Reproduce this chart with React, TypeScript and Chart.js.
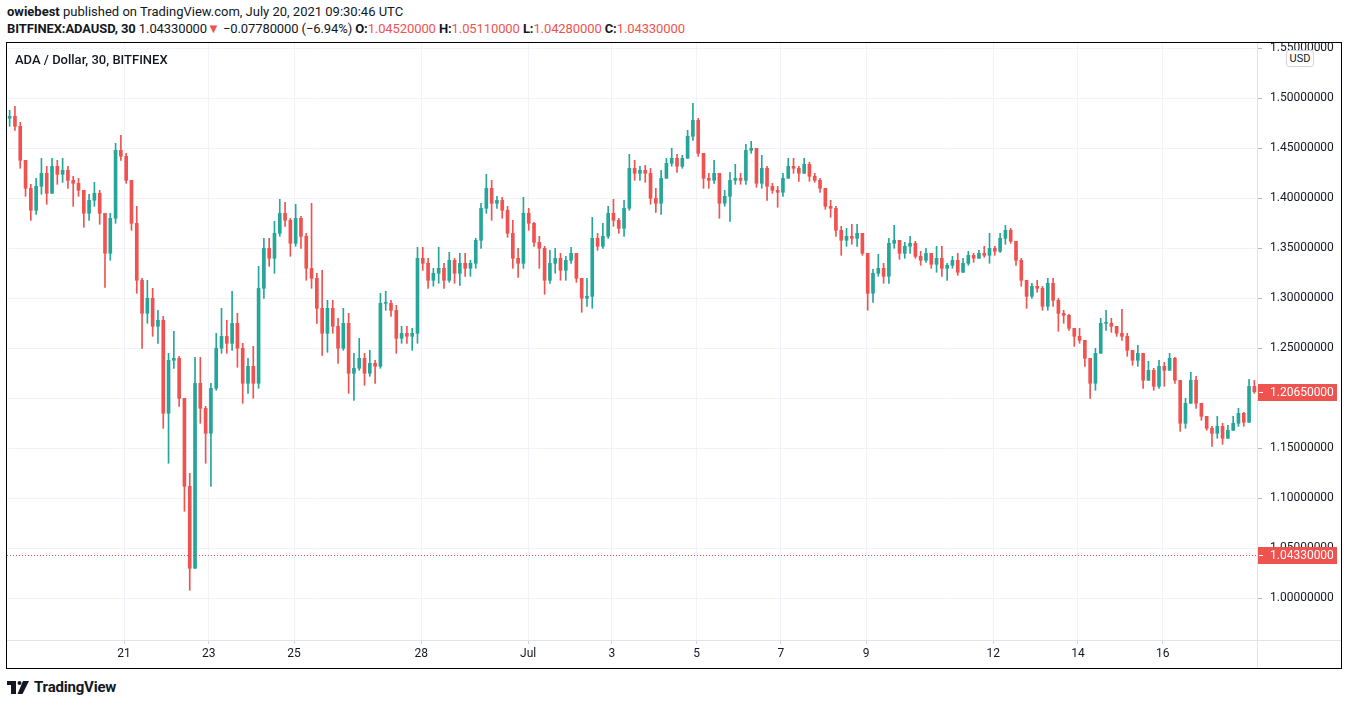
import React, { useEffect, useRef } from "react";
import { Chart, registerables } from "chart.js";

Chart.register(...registerables);

// ---- Data (3-hour candles; open = previous close) ----
const FIRST_OPEN = 1.48;

const highs = [
  1.488, 1.492, 1.476, 1.428, 1.414, 1.42, 1.44, 1.432, 1.44, 1.438,
  1.44, 1.432, 1.422, 1.42, 1.408, 1.404, 1.416, 1.408, 1.385, 1.385,
  1.455, 1.463, 1.445, 1.418, 1.392, 1.32, 1.318, 1.31, 1.288, 1.282,
  1.245, 1.267, 1.242, 1.2, 1.125, 1.241, 1.241, 1.192, 1.215, 1.265,
  1.29, 1.278, 1.307, 1.285, 1.255, 1.24, 1.252, 1.332, 1.36, 1.36,
  1.377, 1.399, 1.396, 1.38, 1.394, 1.382, 1.365, 1.395, 1.325, 1.328,
  1.298, 1.298, 1.28, 1.29, 1.285, 1.245, 1.26, 1.245, 1.248, 1.238,
  1.305, 1.307, 1.298, 1.293, 1.272, 1.272, 1.27, 1.351, 1.351, 1.34,
  1.33, 1.351, 1.335, 1.346, 1.34, 1.345, 1.345, 1.338, 1.36, 1.395,
  1.424, 1.418, 1.402, 1.401, 1.392, 1.378, 1.35, 1.401, 1.39, 1.376,
  1.362, 1.352, 1.348, 1.35, 1.345, 1.342, 1.351, 1.345, 1.32, 1.32,
  1.381, 1.365, 1.375, 1.392, 1.399, 1.38, 1.398, 1.444, 1.438, 1.432,
  1.433, 1.43, 1.41, 1.428, 1.44, 1.45, 1.444, 1.443, 1.468, 1.495,
  1.48, 1.445, 1.425, 1.438, 1.425, 1.408, 1.426, 1.434, 1.425, 1.454,
  1.457, 1.45, 1.443, 1.432, 1.415, 1.412, 1.425, 1.44, 1.44, 1.432,
  1.44, 1.436, 1.425, 1.42, 1.41, 1.398, 1.392, 1.372, 1.37, 1.374,
  1.374, 1.365, 1.345, 1.329, 1.344, 1.335, 1.36, 1.373, 1.358, 1.356,
  1.362, 1.357, 1.347, 1.35, 1.345, 1.352, 1.352, 1.335, 1.342, 1.345,
  1.34, 1.347, 1.345, 1.348, 1.352, 1.365, 1.352, 1.365, 1.373, 1.37,
  1.357, 1.34, 1.318, 1.315, 1.318, 1.312, 1.32, 1.32, 1.3, 1.288,
  1.284, 1.27, 1.27, 1.258, 1.24, 1.25, 1.28, 1.288, 1.28, 1.272,
  1.289, 1.265, 1.248, 1.253, 1.245, 1.237, 1.23, 1.238, 1.236, 1.245,
  1.241, 1.218, 1.2, 1.226, 1.222, 1.195, 1.182, 1.172, 1.182, 1.175,
  1.173, 1.182, 1.19, 1.186, 1.219, 1.218,
];

const lows = [
  1.472, 1.468, 1.43, 1.402, 1.378, 1.384, 1.404, 1.394, 1.412, 1.414,
  1.416, 1.41, 1.392, 1.402, 1.371, 1.378, 1.392, 1.374, 1.311, 1.338,
  1.375, 1.438, 1.415, 1.368, 1.305, 1.25, 1.275, 1.262, 1.255, 1.17,
  1.135, 1.23, 1.192, 1.087, 1.008, 1.03, 1.175, 1.135, 1.112, 1.208,
  1.245, 1.245, 1.248, 1.231, 1.195, 1.205, 1.2, 1.21, 1.3, 1.332,
  1.325, 1.362, 1.372, 1.342, 1.352, 1.35, 1.318, 1.31, 1.275, 1.243,
  1.246, 1.265, 1.235, 1.248, 1.205, 1.198, 1.228, 1.213, 1.222, 1.215,
  1.23, 1.288, 1.282, 1.245, 1.255, 1.255, 1.248, 1.255, 1.328, 1.31,
  1.312, 1.315, 1.31, 1.316, 1.315, 1.313, 1.322, 1.322, 1.33, 1.35,
  1.385, 1.378, 1.39, 1.38, 1.361, 1.33, 1.321, 1.33, 1.368, 1.352,
  1.33, 1.304, 1.315, 1.325, 1.318, 1.318, 1.335, 1.316, 1.286, 1.292,
  1.29, 1.348, 1.35, 1.36, 1.372, 1.365, 1.362, 1.388, 1.418, 1.418,
  1.416, 1.394, 1.386, 1.384, 1.42, 1.432, 1.426, 1.43, 1.44, 1.458,
  1.442, 1.41, 1.41, 1.415, 1.38, 1.392, 1.377, 1.414, 1.414, 1.414,
  1.445, 1.411, 1.41, 1.398, 1.405, 1.391, 1.402, 1.42, 1.425, 1.417,
  1.425, 1.417, 1.416, 1.406, 1.389, 1.381, 1.362, 1.343, 1.352, 1.354,
  1.352, 1.343, 1.288, 1.296, 1.322, 1.315, 1.315, 1.35, 1.339, 1.34,
  1.345, 1.34, 1.333, 1.336, 1.33, 1.326, 1.322, 1.318, 1.33, 1.323,
  1.326, 1.333, 1.336, 1.34, 1.341, 1.335, 1.343, 1.346, 1.354, 1.355,
  1.333, 1.312, 1.29, 1.3, 1.306, 1.288, 1.288, 1.292, 1.267, 1.275,
  1.268, 1.252, 1.255, 1.232, 1.2, 1.208, 1.245, 1.268, 1.266, 1.262,
  1.258, 1.242, 1.233, 1.232, 1.21, 1.218, 1.208, 1.21, 1.212, 1.228,
  1.215, 1.167, 1.17, 1.195, 1.19, 1.178, 1.168, 1.152, 1.16, 1.154,
  1.16, 1.168, 1.172, 1.172, 1.176, 1.205,
];

const closes = [
  1.482, 1.472, 1.438, 1.41, 1.388, 1.412, 1.425, 1.405, 1.432, 1.424,
  1.428, 1.418, 1.415, 1.408, 1.385, 1.398, 1.405, 1.385, 1.345, 1.38,
  1.448, 1.442, 1.418, 1.375, 1.318, 1.285, 1.3, 1.272, 1.278, 1.185,
  1.238, 1.24, 1.2, 1.112, 1.03, 1.215, 1.19, 1.165, 1.21, 1.25,
  1.262, 1.255, 1.275, 1.25, 1.215, 1.232, 1.215, 1.31, 1.35, 1.34,
  1.365, 1.385, 1.378, 1.355, 1.38, 1.362, 1.33, 1.32, 1.29, 1.265,
  1.29, 1.272, 1.25, 1.275, 1.225, 1.23, 1.24, 1.225, 1.235, 1.232,
  1.295, 1.295, 1.288, 1.26, 1.265, 1.262, 1.265, 1.34, 1.335, 1.318,
  1.325, 1.33, 1.318, 1.338, 1.325, 1.335, 1.33, 1.335, 1.358, 1.39,
  1.41, 1.395, 1.398, 1.388, 1.365, 1.34, 1.335, 1.385, 1.375, 1.356,
  1.35, 1.318, 1.335, 1.34, 1.328, 1.338, 1.345, 1.32, 1.3, 1.302,
  1.36, 1.352, 1.362, 1.385, 1.378, 1.37, 1.39, 1.43, 1.425, 1.428,
  1.425, 1.4, 1.395, 1.42, 1.435, 1.44, 1.432, 1.44, 1.462, 1.478,
  1.445, 1.42, 1.418, 1.425, 1.395, 1.402, 1.418, 1.42, 1.418, 1.448,
  1.45, 1.415, 1.43, 1.412, 1.408, 1.406, 1.42, 1.432, 1.43, 1.425,
  1.434, 1.422, 1.418, 1.41, 1.392, 1.39, 1.368, 1.358, 1.362, 1.36,
  1.365, 1.345, 1.305, 1.325, 1.33, 1.322, 1.355, 1.358, 1.345, 1.352,
  1.355, 1.342, 1.338, 1.345, 1.334, 1.34, 1.33, 1.333, 1.338, 1.326,
  1.335, 1.343, 1.34, 1.345, 1.343, 1.35, 1.347, 1.36, 1.368, 1.357,
  1.338, 1.318, 1.302, 1.312, 1.31, 1.292, 1.315, 1.298, 1.285, 1.283,
  1.27, 1.262, 1.258, 1.24, 1.215, 1.245, 1.275, 1.275, 1.272, 1.265,
  1.262, 1.248, 1.238, 1.245, 1.218, 1.228, 1.212, 1.232, 1.228, 1.24,
  1.218, 1.175, 1.195, 1.218, 1.195, 1.182, 1.17, 1.165, 1.172, 1.16,
  1.168, 1.175, 1.185, 1.176, 1.212, 1.2065,
];

const X_MAX = 236;
const tickPositions = [22.1, 38.1, 54.2, 78.2, 98.4, 114.2, 130.2, 146.1, 162.2, 186.2, 202.2, 218.2];
const tickLabels = ["21", "23", "25", "28", "Jul", "3", "5", "7", "9", "12", "14", "16"];
const priceTicks = [1.0, 1.05, 1.1, 1.15, 1.2, 1.25, 1.3, 1.35, 1.4, 1.45, 1.5, 1.55];
const Y_MIN = 0.9583;
const Y_MAX = 1.5553;
const CURRENT_PRICE = 1.0433;

const TEAL = "#26a69a";
const RED = "#ef5350";
const TEXT = "#131722";
const GRID = "#f0f3fa";
const SEP = "#e0e3eb";
const FONT = "Roboto, 'Liberation Sans', sans-serif";

const priceLabelsPlugin = {
  id: "priceLabels",
  afterDraw(chart: any) {
    const { ctx, chartArea, scales } = chart;
    const y = scales.y;
    const lastClose = closes[closes.length - 1];
    ctx.save();
    // dotted current price line
    const yc = Math.round(y.getPixelForValue(CURRENT_PRICE)) + 0.5;
    ctx.strokeStyle = RED;
    ctx.lineWidth = 1;
    ctx.setLineDash([1, 2]);
    ctx.beginPath();
    ctx.moveTo(chartArea.left, yc);
    ctx.lineTo(chartArea.right, yc);
    ctx.stroke();
    ctx.setLineDash([]);
    const drawLabel = (value: number) => {
      const py = Math.round(y.getPixelForValue(value));
      const x0 = chartArea.right + 1;
      ctx.fillStyle = RED;
      ctx.fillRect(x0, py - 8, 79, 17);
      ctx.strokeStyle = "#ffffff";
      ctx.beginPath();
      ctx.moveTo(x0 + 1, py + 0.5);
      ctx.lineTo(x0 + 5, py + 0.5);
      ctx.stroke();
      ctx.fillStyle = "#ffffff";
      ctx.font = `12px ${FONT}`;
      ctx.textBaseline = "middle";
      ctx.textAlign = "left";
      ctx.fillText(value.toFixed(8), chartArea.right + 13, py + 1);
    };
    drawLabel(lastClose);
    drawLabel(CURRENT_PRICE);
    ctx.restore();
  },
};

export default function App() {
  const ref = useRef<HTMLCanvasElement>(null);

  useEffect(() => {
    const opens = closes.map((c, i) => (i === 0 ? FIRST_OPEN : closes[i - 1]));
    const colors = closes.map((c, i) => (c >= opens[i] ? TEAL : RED));
    const wickData = closes.map((c, i) => ({
      x: i + 0.5,
      y: [Math.min(lows[i], opens[i], c), Math.max(highs[i], opens[i], c)],
    }));
    const bodyData = closes.map((c, i) => ({
      x: i + 0.5,
      y: [Math.min(opens[i], c), Math.max(opens[i], c)],
    }));

    const chart = new Chart(ref.current as HTMLCanvasElement, {
      type: "bar",
      data: {
        datasets: [
          {
            data: wickData as any,
            backgroundColor: colors,
            barThickness: 1,
            grouped: false,
            minBarLength: 1,
            borderWidth: 0,
          } as any,
          {
            data: bodyData as any,
            backgroundColor: colors,
            barThickness: 3,
            grouped: false,
            minBarLength: 1,
            borderWidth: 0,
          } as any,
        ],
      },
      options: {
        responsive: false,
        animation: false,
        layout: { padding: 0 },
        plugins: { legend: { display: false }, tooltip: { enabled: false } },
        scales: {
          x: {
            type: "linear",
            min: 0,
            max: X_MAX,
            offset: false,
            afterBuildTicks: (s: any) => {
              s.ticks = tickPositions.map((v) => ({ value: v }));
            },
            afterFit: (s: any) => {
              s.height = 28;
              s.paddingLeft = 0;
              s.paddingRight = 0;
            },
            ticks: {
              autoSkip: false,
              maxRotation: 0,
              color: TEXT,
              padding: 3,
              font: { family: FONT, size: 12 },
              callback: (v: any, i: number) => tickLabels[i],
            },
            grid: { offset: false, color: GRID, tickColor: "#d1d4dc", tickLength: 4, drawTicks: true },
            border: { display: false },
          },
          y: {
            type: "linear",
            position: "right",
            min: Y_MIN,
            max: Y_MAX,
            afterBuildTicks: (s: any) => {
              s.ticks = priceTicks.map((v) => ({ value: v }));
            },
            afterFit: (s: any) => {
              s.width = 84;
              s.paddingTop = 0;
              s.paddingBottom = 0;
            },
            ticks: {
              color: TEXT,
              padding: 8,
              font: { family: FONT, size: 12 },
              callback: (v: any) => Number(v).toFixed(8),
            },
            grid: { color: GRID, tickColor: "#b2b5be", tickLength: 5, drawTicks: true },
            border: { display: false },
          },
        },
      } as any,
      plugins: [priceLabelsPlugin],
    });
    return () => chart.destroy();
  }, []);

  const red = { color: RED };
  const bold = { fontWeight: 700 };

  return (
    <div
      style={{
        position: "fixed",
        left: 0,
        top: 0,
        width: 1348,
        height: 705,
        background: "#ffffff",
        fontFamily: FONT,
        color: TEXT,
        overflow: "hidden",
      }}
    >
      <div style={{ position: "absolute", left: 7, top: 4, fontSize: 13, lineHeight: "16px", whiteSpace: "nowrap" }}>
        <span style={bold}>owiebest</span> published on TradingView.com, July 20, 2021 09:30:46 UTC
      </div>
      <div style={{ position: "absolute", left: 7, top: 21, fontSize: 13, lineHeight: "16px", whiteSpace: "nowrap", letterSpacing: -0.1 }}>
        <span style={bold}>BITFINEX:ADAUSD, 30</span> 1.04330000<span style={red}>▼</span> −0.07780000 (−6.94%){" "}
        <span style={bold}>O:</span>
        <span style={red}>1.04520000</span> <span style={bold}>H:</span>
        <span style={red}>1.05110000</span> <span style={bold}>L:</span>
        <span style={red}>1.04280000</span> <span style={bold}>C:</span>
        <span style={red}>1.04330000</span>
      </div>

      {/* frame */}
      <div
        style={{
          position: "absolute",
          left: 6,
          top: 42,
          width: 1334,
          height: 625,
          border: "1px solid #000000",
        }}
      />
      <canvas
        ref={ref}
        width={1334}
        height={625}
        style={{ position: "absolute", left: 7, top: 43, width: 1334, height: 625 }}
      />
      {/* separators */}
      <div style={{ position: "absolute", left: 7, top: 640, width: 1334, height: 1, background: SEP }} />
      <div style={{ position: "absolute", left: 1257, top: 43, width: 1, height: 625, background: SEP }} />

      {/* pane legend */}
      <div style={{ position: "absolute", left: 15, top: 52, fontSize: 13, lineHeight: "16px", fontWeight: 500, whiteSpace: "nowrap" }}>
        ADA / Dollar, 30, BITFINEX
      </div>

      {/* currency badge */}
      <div
        style={{
          position: "absolute",
          left: 1286,
          top: 50,
          width: 26,
          height: 15,
          border: "1px solid #d1d4dc",
          borderRadius: 3,
          background: "#ffffff",
          fontSize: 11,
          lineHeight: "15px",
          textAlign: "center",
        }}
      >
        USD
      </div>

      {/* branding */}
      <div style={{ position: "absolute", left: 7, top: 678, display: "flex", alignItems: "center", whiteSpace: "nowrap" }}>
        <svg width="22" height="13" viewBox="0 0 22 13">
          <rect x="0" y="0" width="9" height="4" fill={TEXT} />
          <rect x="4" y="0" width="5" height="13" fill={TEXT} />
          <circle cx="12.5" cy="2" r="2" fill={TEXT} />
          <polygon points="16,0 22,0 15.5,13 10.5,13" fill={TEXT} />
        </svg>
        <span style={{ marginLeft: 5, fontSize: 15, fontWeight: 700, letterSpacing: -0.2 }}>TradingView</span>
      </div>
    </div>
  );
}
